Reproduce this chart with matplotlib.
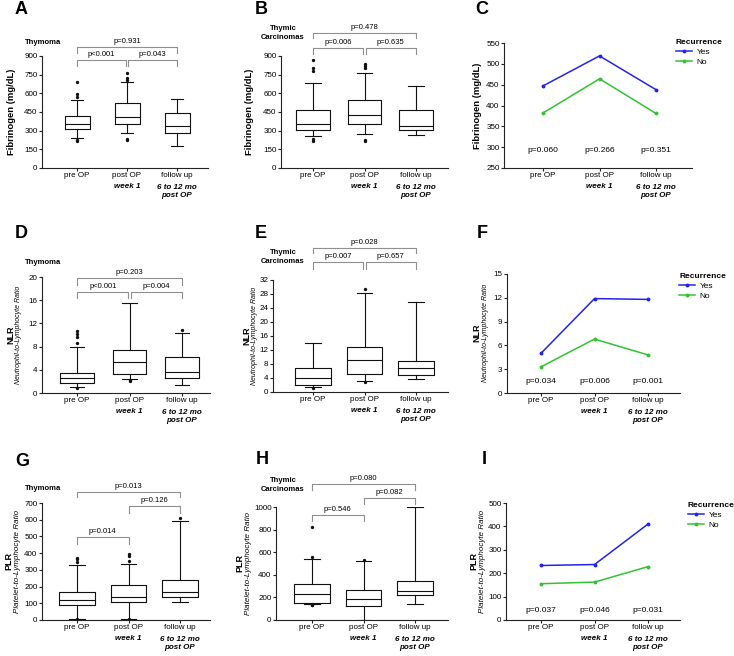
import matplotlib
matplotlib.use("Agg")
import matplotlib.pyplot as plt

plt.rcParams['font.family'] = ['Liberation Sans', 'DejaVu Sans']

W, H = 734, 656
BLUE = '#2424e8'
GREEN = '#33c233'
GREY = '#8f8f8f'

groups = ['pre OP', 'post OP', 'follow up']
sub_labels = ['', 'week 1', '6 to 12 mo\npost OP']

# box summaries per group: whisker low, q1, median, q3, whisker high
fib_thymoma = [[240, 310, 350, 415, 550], [280, 355, 410, 520, 690], [180, 280, 335, 445, 555]]
fib_thymoma_out = [[218, 224, 570, 595, 690], [225, 230, 710, 722, 762], []]
fib_carcinoma = [[255, 305, 350, 465, 680], [270, 355, 425, 550, 760], [265, 305, 340, 470, 660]]
fib_carcinoma_out = [[220, 232, 780, 800, 870], [220, 226, 805, 822, 838], []]

nlr_thymoma = [[1.0, 1.8, 2.6, 3.4, 7.9], [2.5, 3.2, 5.4, 7.5, 15.5], [1.3, 2.6, 3.6, 6.2, 10.4]]
nlr_thymoma_out = [[0.9, 8.6, 9.6, 10.2, 10.7], [2.0, 2.3], [10.9]]
nlr_carcinoma = [[1.3, 2.1, 4.0, 7.0, 14.0], [3.1, 5.1, 9.1, 12.9, 28.2], [3.6, 4.8, 6.9, 8.8, 25.8]]
nlr_carcinoma_out = [[1.2], [3.0, 29.3], []]

plr_thymoma = [[5, 88, 122, 170, 330], [5, 105, 140, 208, 335], [105, 135, 170, 237, 590]]
plr_thymoma_out = [[3, 350, 362, 372], [3, 352, 382, 392], [610]]
plr_carcinoma = [[140, 150, 232, 316, 542], [0, 124, 183, 265, 522], [139, 221, 257, 345, 1000]]
plr_carcinoma_out = [[130, 135, 560, 823], [528], []]

# p values for pairwise comparisons: (pre vs post, post vs follow, pre vs follow)
fib_thymoma_p = ['p<0.001', 'p=0.043', 'p=0.931']
fib_carcinoma_p = ['p=0.006', 'p=0.635', 'p=0.478']
nlr_thymoma_p = ['p<0.001', 'p=0.004', 'p=0.203']
nlr_carcinoma_p = ['p=0.007', 'p=0.657', 'p=0.028']
plr_thymoma_p = ['p=0.014', 'p=0.126', 'p=0.013']
plr_carcinoma_p = ['p=0.546', 'p=0.082', 'p=0.080']

# recurrence means
fib_yes = [447, 519, 438]
fib_no = [382, 464, 381]
fib_rec_p = ['p=0.060', 'p=0.266', 'p=0.351']
nlr_yes = [5.0, 11.9, 11.8]
nlr_no = [3.3, 6.8, 4.8]
nlr_rec_p = ['p=0.034', 'p=0.006', 'p=0.001']
plr_yes = [233, 237, 410]
plr_no = [155, 162, 228]
plr_rec_p = ['p=0.037', 'p=0.046', 'p=0.031']

fig = plt.figure(figsize=(W / 100, H / 100), dpi=100)


def fx(x):
    return x / W


def fy(y):
    return 1 - y / H


def make_axes(l, t, r, b, c0, c2, yticks):
    ax = fig.add_axes([fx(l), fy(b), (r - l) / W, (b - t) / H])
    unit = (c2 - c0) / 2
    ax.set_xlim((l - c0) / unit, (r - c0) / unit)
    ax.set_ylim(yticks[0], yticks[-1])
    ax.set_yticks(yticks)
    ax.set_xticks([0, 1, 2])
    ax.set_xticklabels(groups)
    for s in ['top', 'right']:
        ax.spines[s].set_visible(False)
    for s in ['left', 'bottom']:
        ax.spines[s].set_linewidth(0.8)
        ax.spines[s].set_color('#222222')
    ax.tick_params(labelsize=5.8, length=2.2, width=0.8, pad=1.0, color='#222222')
    ax.patch.set_alpha(0)
    for i, lab in enumerate(sub_labels):
        if lab:
            ax.annotate(lab, xy=(i, 0), xycoords=('data', 'axes fraction'),
                        xytext=(0, -17.0 if i == 2 else -13.0), textcoords='offset points',
                        ha='center', va='center', fontsize=5.8, fontweight='bold',
                        style='italic', linespacing=1.25)
    return ax


def boxes(ax, summ, out, width):
    stats = []
    for s, f in zip(summ, out):
        stats.append(dict(whislo=s[0], q1=s[1], med=s[2], q3=s[3], whishi=s[4], fliers=f))
    lp = dict(color='#111111', lw=0.8)
    ax.bxp(stats, positions=[0, 1, 2], widths=width, capwidths=width * 0.45,
           boxprops=lp, whiskerprops=lp, capprops=lp, medianprops=lp,
           flierprops=dict(marker='o', ms=1.4, mfc='#111111', mec='#111111', lw=0),
           manage_ticks=False)


def bracket(ax, i, j, y, yend, label):
    ax.plot([i, i, j, j], [yend, y, y, yend], color=GREY, lw=0.8, clip_on=False)
    ax.annotate(label, xy=((i + j) / 2, y), xytext=(0, 1.5), textcoords='offset points',
                ha='center', va='bottom', fontsize=5.5, annotation_clip=False)


def brackets_three(ax, p, low, low_end, top, top_end):
    bracket(ax, 0, 0.98, low, low_end, p[0])
    bracket(ax, 1.02, 2, low, low_end, p[1])
    bracket(ax, 0, 2, top, top_end, p[2])


def lines(ax, yes, no, pvals, py, legend_xy):
    x = [0, 1, 2]
    hy, = ax.plot(x, yes, color=BLUE, lw=1.1, marker='o', ms=1.8, label='Yes')
    hn, = ax.plot(x, no, color=GREEN, lw=1.1, marker='o', ms=1.8, label='No')
    for i, p in enumerate(pvals):
        ax.text(i, py, p, ha='center', va='center', fontsize=6)
    ax.legend(handles=[hy, hn], loc='upper left', frameon=False,
              bbox_to_anchor=(fx(legend_xy[0]), fy(legend_xy[1])), bbox_transform=fig.transFigure,
              title='Recurrence', title_fontproperties={'weight': 'bold', 'size': 6},
              fontsize=6, handlelength=1.9, handletextpad=0.6, labelspacing=0.25,
              borderpad=0, borderaxespad=0, alignment='left')


def ylab_single(x, y, text):
    fig.text(fx(x), fy(y), text, rotation=90, ha='center', va='center',
             fontsize=6.8, fontweight='bold')


def ylab_double(x1, x2, y, short, long, size):
    fig.text(fx(x1), fy(y), short, rotation=90, ha='center', va='center',
             fontsize=6.5, fontweight='bold')
    fig.text(fx(x2), fy(y), long, rotation=90, ha='center', va='center',
             fontsize=size, style='italic')


# ---------------- row 1: fibrinogen ----------------
axA = make_axes(42, 56, 208, 168, 77, 177, list(range(0, 901, 150)))
boxes(axA, fib_thymoma, fib_thymoma_out, 0.5)
brackets_three(axA, fib_thymoma_p, 868, 820, 972, 924)

axB = make_axes(281, 56, 448, 168, 313, 416, list(range(0, 901, 150)))
boxes(axB, fib_carcinoma, fib_carcinoma_out, 0.65)
brackets_three(axB, fib_carcinoma_p, 964, 916, 1085, 1045)

axC = make_axes(504, 43, 692, 168, 543, 656, list(range(250, 551, 50)))
lines(axC, fib_yes, fib_no, fib_rec_p, 291, (676, 39))

ylab_single(12, 112, 'Fibrinogen (mg/dL)')
ylab_single(250, 112, 'Fibrinogen (mg/dL)')
ylab_single(478, 106, 'Fibrinogen (mg/dL)')

# ---------------- row 2: NLR ----------------
axD = make_axes(42, 277, 210, 393, 77, 182, list(range(0, 21, 4)))
boxes(axD, nlr_thymoma, nlr_thymoma_out, 0.63)
brackets_three(axD, nlr_thymoma_p, 17.4, 16.4, 19.8, 18.6)

axE = make_axes(273, 280, 448, 392, 313, 416, list(range(0, 33, 4)))
boxes(axE, nlr_carcinoma, nlr_carcinoma_out, 0.68)
brackets_three(axE, nlr_carcinoma_p, 37.0, 35.2, 41.1, 39.7)

axF = make_axes(507, 274, 680, 393, 541, 648, list(range(0, 16, 3)))
lines(axF, nlr_yes, nlr_no, nlr_rec_p, 1.4, (679, 273))

nlr_long = 'Neutrophil-to-Lymphocyte Ratio'
ylab_double(11, 19, 335, 'NLR', nlr_long, 5)
ylab_double(247, 255, 336, 'NLR', nlr_long, 5)
ylab_double(477, 485, 333, 'NLR', nlr_long, 5)

# ---------------- row 3: PLR ----------------
axG = make_axes(42, 503, 210, 620, 77, 180, list(range(0, 701, 100)))
boxes(axG, plr_thymoma, plr_thymoma_out, 0.68)
bracket(axG, 0, 1, 494, 456, plr_thymoma_p[0])
bracket(axG, 1, 2, 681, 643, plr_thymoma_p[1])
bracket(axG, 0, 2, 766, 738, plr_thymoma_p[2])

axH = make_axes(276, 507, 448, 620, 312, 415, list(range(0, 1001, 200)))
boxes(axH, plr_carcinoma, plr_carcinoma_out, 0.68)
bracket(axH, 0, 1, 932, 875, plr_carcinoma_p[0])
bracket(axH, 1, 2, 1080, 1024, plr_carcinoma_p[1])
bracket(axH, 0, 2, 1202, 1148, plr_carcinoma_p[2])

axI = make_axes(506, 503, 680, 620, 541, 648, list(range(0, 501, 100)))
lines(axI, plr_yes, plr_no, plr_rec_p, 41, (688, 502))

plr_long = 'Platelet-to-Lymphocyte Ratio'
ylab_double(9, 18, 561, 'PLR', plr_long, 5.8)
ylab_double(240, 249, 563, 'PLR', plr_long, 5.8)
ylab_double(474, 483, 561, 'PLR', plr_long, 5.8)

# group titles
for y in [42, 263, 488]:
    fig.text(fx(25), fy(y), 'Thymoma', ha='left', va='center', fontsize=5.5, fontweight='bold')
for y in [33, 257, 485]:
    fig.text(fx(283), fy(y), 'Thymic\nCarcinomas', ha='center', va='center',
             fontsize=5.5, fontweight='bold', linespacing=1.3)

# panel letters
letters = ['A', 'B', 'C', 'D', 'E', 'F', 'G', 'H', 'I']
letter_pos = [(21, 9), (261, 9), (482, 9), (21, 233), (261, 233), (482, 233),
              (22, 461), (262, 460), (484, 460)]
for let, (x, y) in zip(letters, letter_pos):
    fig.text(fx(x), fy(y), let, ha='center', va='center', fontsize=13, fontweight='bold')

fig.savefig('out.png', dpi=100)
